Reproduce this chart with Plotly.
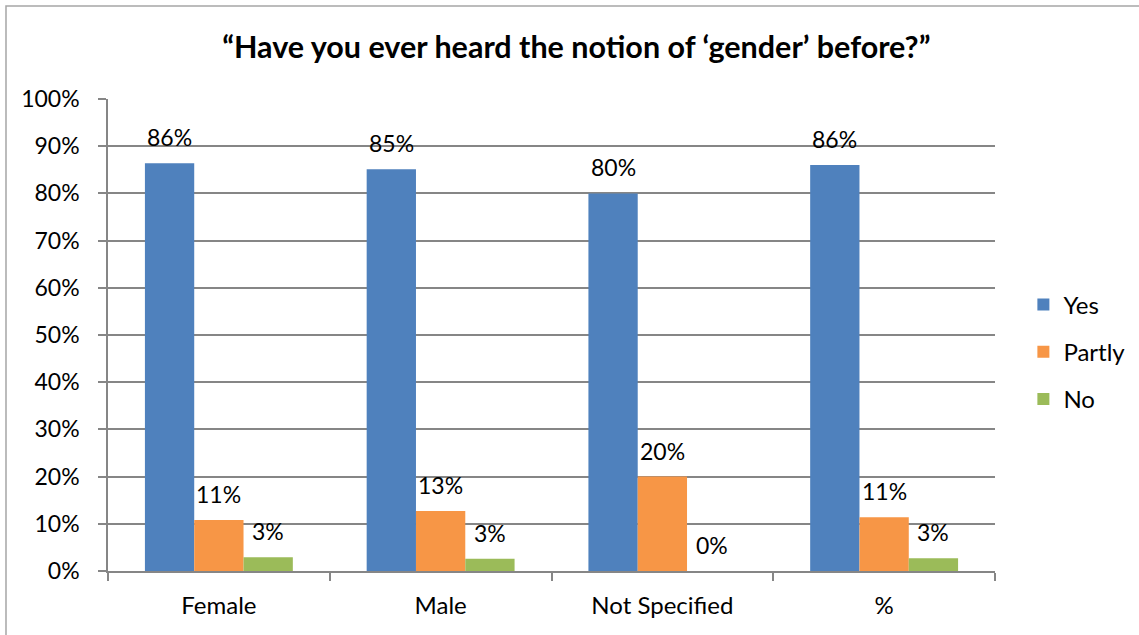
import plotly.graph_objects as go

categories = ["Female", "Male", "Not Specified", "%"]
series_names = ["Yes", "Partly", "No"]
yes_vals = [86.4, 85.1, 80.0, 86.0]
partly_vals = [10.8, 12.7, 20.0, 11.4]
no_vals = [2.9, 2.6, 0.0, 2.7]
colors = ["#4F81BD", "#F79646", "#9BBB59"]
y_ticks = [0, 10, 20, 30, 40, 50, 60, 70, 80, 90, 100]
y_tick_text = [f"{v}%" for v in y_ticks]

FONT = "Lato"
all_vals = [yes_vals, partly_vals, no_vals]

fig = go.Figure()
for name, vals, col in zip(series_names, all_vals, colors):
    fig.add_trace(go.Bar(
        name=name, x=categories, y=vals, legendgroup=name,
        marker=dict(color=col, line=dict(width=0)),
    ))

# data labels
bar_px = 49.3
for i, vals in enumerate(all_vals):
    for c, v in zip(categories, vals):
        fig.add_annotation(
            x=c, y=v, xref="x", yref="y", text=f"{round(v)}%", showarrow=False,
            xshift=(i - 1) * bar_px, yshift=26, font=dict(family=FONT, size=23, color="#000000"),
        )

fig.update_layout(
    width=1139, height=635,
    margin=dict(l=108, r=144, t=99, b=64, autoexpand=False),
    paper_bgcolor="white", plot_bgcolor="white",
    barmode="group", bargap=0.333, bargroupgap=0,
    font=dict(family=FONT, color="#000000"),
    title=dict(
        text="<b>“Have you ever heard the notion of ‘gender’ before?”</b>",
        x=0.506, xanchor="center", y=0.925, yanchor="middle",
        font=dict(family=FONT, size=30.5, color="#000000"),
    ),
    legend=dict(
        x=1.032, y=0.464, xanchor="left", yanchor="middle",
        font=dict(family=FONT, size=24), itemwidth=30, tracegroupgap=13,
        traceorder="grouped", bgcolor="rgba(0,0,0,0)",
    ),
    xaxis=dict(
        showline=True, linecolor="#868686", linewidth=1.5,
        ticks="outside", ticklen=8, tickcolor="#868686", tickwidth=1.5,
        tickson="boundaries", showgrid=False,
        tickfont=dict(family=FONT, size=24), ticklabelstandoff=12,
    ),
    yaxis=dict(
        range=[0, 100], tickvals=y_ticks, ticktext=y_tick_text,
        showline=True, linecolor="#868686", linewidth=1.5,
        ticks="outside", ticklen=8, tickcolor="#868686", tickwidth=1.5,
        showgrid=True, gridcolor="#868686", gridwidth=1.5, zeroline=False,
        tickfont=dict(family=FONT, size=23), ticklabelstandoff=14,
    ),
    shapes=[dict(
        type="rect", xref="paper", yref="paper",
        x0=-0.115, x1=1.2, y0=-0.3, y1=1.197,
        line=dict(color="#A6A6A6", width=1.5), fillcolor="rgba(0,0,0,0)", layer="below",
    )],
)

fig.write_html("out.html")
